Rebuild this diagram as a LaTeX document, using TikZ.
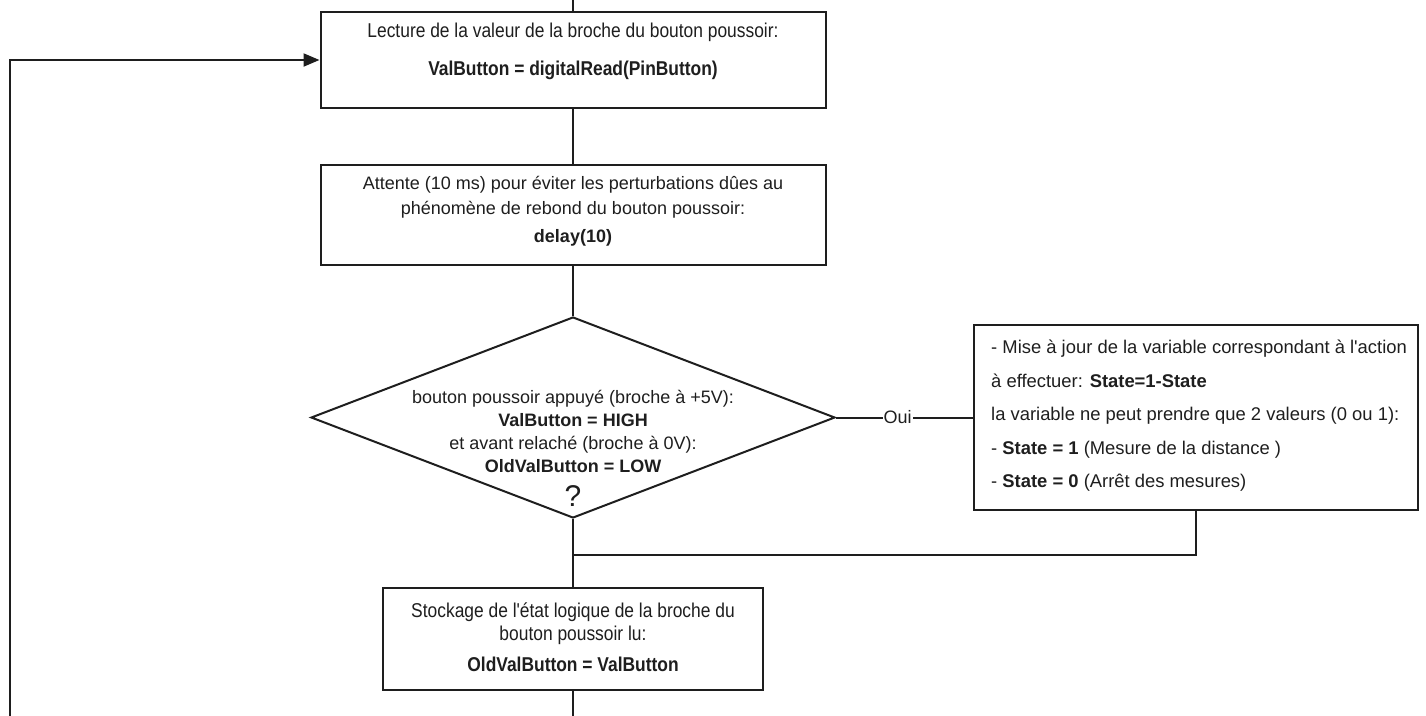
\documentclass[tikz,border=0pt]{standalone}
\usepackage{fontspec}
\setmainfont{Liberation Sans}[Ligatures=TeXOff]
\newfontfamily\narrowsans{Liberation Sans}[FakeStretch=0.87,Ligatures=TeXOff]
\usetikzlibrary{shapes.geometric,arrows.meta}
\definecolor{ink}{HTML}{1E1E1E}
\begin{document}
\begin{tikzpicture}[x=1pt,y=-1pt,
  box/.style={draw=ink, line width=2pt, rectangle, inner sep=0pt},
  decision/.style={draw=ink, line width=2pt, diamond, inner sep=0pt},
  flow/.style={draw=ink, line width=2pt},
  body/.style={text=ink, font=\fontsize{18}{25}\selectfont, align=center, inner sep=0pt},
  narrowbody/.style={text=ink, font=\narrowsans\fontsize{20}{38}\selectfont, align=center, inner sep=0pt},
  tip/.style={-{Triangle[length=16pt,width=13pt]}}
]
\useasboundingbox (0,0) rectangle (1426,715);

% process boxes
\node[box, minimum width=505pt, minimum height=96pt] (read) at (573,60) {};
\node[narrowbody] (readtxt) at (573,51)
  {Lecture de la valeur de la broche du bouton poussoir:\\
   \textbf{ValButton = digitalRead(PinButton)}};

\node[box, minimum width=505pt, minimum height=100pt] (wait) at (573,215) {};
\node[body] (waittxt) at (573,211)
  {Attente (10 ms) pour éviter les perturbations dûes au\\
   phénomène de rebond du bouton poussoir:\\[3pt]
   \textbf{delay(10)}};

% decision
\node[decision, minimum width=524pt, minimum height=201pt] (cond) at (573,417.5) {};
\node[body, font=\fontsize{18}{23}\selectfont] (condtxt) at (573,431)
  {bouton poussoir appuyé (broche à +5V):\\
   \textbf{ValButton = HIGH}\\
   et avant relaché (broche à 0V):\\
   \textbf{OldValButton = LOW}};
\node[body, font=\fontsize{30}{32}\selectfont] (qmark) at (573,496) {?};

% state update
\node[box, minimum width=444pt, minimum height=185pt] (upd) at (1196,417.5) {};
\node[body, align=left, anchor=west, font=\fontsize{18.4}{33.5}\selectfont] (updtxt) at (991,416)
  {- Mise à jour de la variable correspondant à l'action\\
   à effectuer: \textbf{State=1-State}\\
   la variable ne peut prendre que 2 valeurs (0 ou 1):\\
   - \textbf{State = 1} (Mesure de la distance )\\
   - \textbf{State = 0} (Arrêt des mesures)};

% storage of the previous state
\node[box, minimum width=380pt, minimum height=102pt] (store) at (573,639) {};
\node[narrowbody, font=\narrowsans\fontsize{20}{23}\selectfont] (storetxt) at (573,637)
  {Stockage de l'état logique de la broche du\\
   bouton poussoir lu:\\[8pt]
   \textbf{OldValButton = ValButton}};

% connectors
\coordinate (entry) at (573,-30);
\coordinate (join) at (573,555);
\coordinate (loopR) at (573,760);
\coordinate (loopL) at (10,760);

\draw[flow] (entry) -- (read.north);
\draw[flow] (read.south) -- (wait.north);
\draw[flow] (wait.south) -- (cond.north);
\draw[flow] (cond.east) -- node[pos=0.45, fill=white, text=ink, inner sep=1pt,
  font=\fontsize{18}{20}\selectfont] (oui) {Oui} (upd.west);
\draw[flow] (cond.south) -- (store.north);
\draw[flow] (upd.south) |- (join);
\draw[flow] (store.south) -- (loopR) -- (loopL);
\draw[flow, tip] (loopL) |- (read.west);
\end{tikzpicture}
\end{document}
